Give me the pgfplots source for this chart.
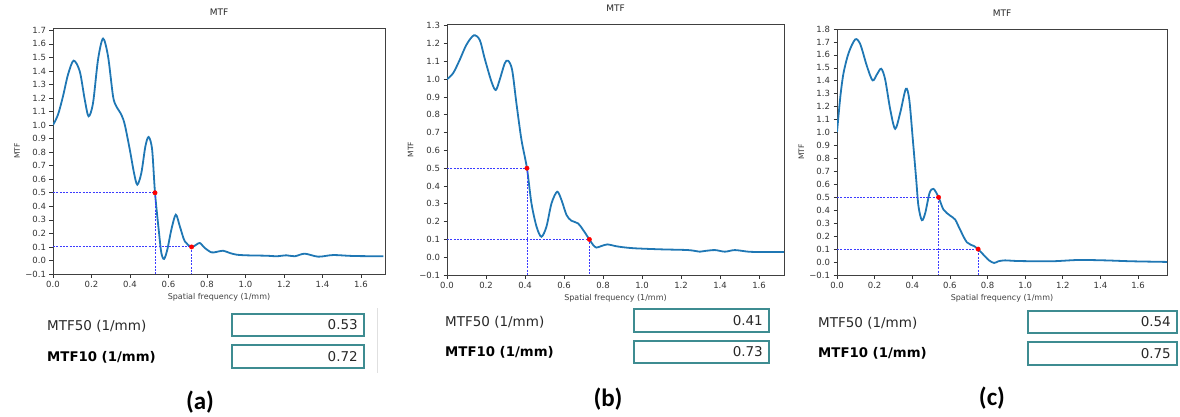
\documentclass[border=0pt]{standalone}
\usepackage{fontspec}
\setmainfont{DejaVu Sans}
\newfontfamily\carlito{Carlito}
\usepackage{pgfplots}
\pgfplotsset{compat=1.18}
\definecolor{mplblue}{RGB}{31,119,180}
\definecolor{boxteal}{RGB}{62,140,145}
\definecolor{lbl}{RGB}{40,40,40}
\definecolor{dashblue}{RGB}{60,60,255}

\pgfplotsset{mtf/.style={
  scale only axis, xmin=0, ymin=-0.1,
  axis line style={black!75,line width=0.6pt},
  tick align=outside, xtick pos=left, ytick pos=left,
  major tick length=3.5pt, tick style={black!80,line width=0.6pt},
  ticklabel style={font=\fontsize{8.5}{9}\selectfont, text=black!80},
  xtick={0,0.2,0.4,0.6,0.8,1.0,1.2,1.4,1.6},
  xticklabels={0.0,0.2,0.4,0.6,0.8,1.0,1.2,1.4,1.6},
  title=MTF,
  title style={font=\fontsize{9}{10}\selectfont, text=black!85, at={(axis description cs:0.5,1)}, anchor=center, yshift=10pt},
  xlabel={Spatial frequency (1/mm)},
  xlabel style={font=\fontsize{8}{9}\selectfont, text=black!75, at={(axis description cs:0.5,0)}, anchor=center, yshift=-23pt},
  ylabel=MTF,
  ylabel style={font=\fontsize{7.5}{8}\selectfont, text=black!80, at={(axis description cs:-0.108,0.5)}, anchor=center},
}}
\tikzset{
  mtfcurve/.style={mplblue, line width=1.8pt, smooth, no markers},
  mtfguide/.style={dashblue, line width=0.9pt, dash pattern=on 2pt off 1.3pt, no markers},
  mtfpt/.style={only marks, mark=*, mark size=2.2pt, red, mark options={fill=red, draw=red}},
}

\begin{document}
\begin{tikzpicture}
\path[use as bounding box] (0pt,0pt) rectangle (1180pt,416pt);

% ---------- (a)
\begin{axis}[mtf, at={(53pt,142pt)}, anchor=south west, width=332pt, height=246pt,
  xmax=1.725, ymax=1.717,
  ytick={-0.1,0,0.1,0.2,0.3,0.4,0.5,0.6,0.7,0.8,0.9,1.0,1.1,1.2,1.3,1.4,1.5,1.6,1.7},
  yticklabels={−0.1,0.0,0.1,0.2,0.3,0.4,0.5,0.6,0.7,0.8,0.9,1.0,1.1,1.2,1.3,1.4,1.5,1.6,1.7}]
\addplot[mtfcurve] coordinates {(0,1.0)(0.026,1.077)(0.052,1.213)(0.078,1.373)(0.107,1.476)(0.139,1.397)(0.165,1.188)(0.185,1.065)(0.208,1.163)(0.234,1.484)(0.26,1.639)(0.286,1.508)(0.312,1.213)(0.329,1.139)(0.355,1.077)(0.373,1.003)(0.399,0.819)(0.421,0.646)(0.438,0.56)(0.459,0.646)(0.48,0.843)(0.497,0.912)(0.515,0.819)(0.53,0.5)(0.551,0.203)(0.563,0.055)(0.577,0.011)(0.594,0.08)(0.615,0.228)(0.638,0.338)(0.659,0.252)(0.685,0.141)(0.72,0.1)(0.745,0.117)(0.763,0.129)(0.789,0.092)(0.823,0.06)(0.849,0.063)(0.884,0.072)(0.919,0.055)(0.953,0.043)(1.005,0.038)(1.109,0.035)(1.161,0.031)(1.213,0.038)(1.256,0.031)(1.308,0.05)(1.378,0.028)(1.456,0.04)(1.56,0.033)(1.716,0.031)};
\addplot[mtfguide] coordinates {(0,0.5)(0.53,0.5)(0.53,-0.1)};
\addplot[mtfguide] coordinates {(0,0.1)(0.72,0.1)(0.72,-0.1)};
\addplot[mtfpt] coordinates {(0.53,0.5)(0.72,0.1)};
\end{axis}

% ---------- (b)
\begin{axis}[mtf, at={(447pt,141pt)}, anchor=south west, width=337pt, height=251pt,
  xmax=1.728, ymax=1.31,
  ytick={-0.1,0,0.1,0.2,0.3,0.4,0.5,0.6,0.7,0.8,0.9,1.0,1.1,1.2,1.3},
  yticklabels={−0.1,0.0,0.1,0.2,0.3,0.4,0.5,0.6,0.7,0.8,0.9,1.0,1.1,1.2,1.3}]
\addplot[mtfcurve] coordinates {(0,1.0)(0.031,1.033)(0.065,1.108)(0.099,1.192)(0.137,1.246)(0.168,1.22)(0.193,1.117)(0.228,0.986)(0.25,0.939)(0.27,0.996)(0.296,1.089)(0.313,1.104)(0.334,1.052)(0.356,0.864)(0.382,0.658)(0.41,0.5)(0.433,0.303)(0.459,0.172)(0.484,0.115)(0.51,0.172)(0.536,0.303)(0.565,0.368)(0.587,0.321)(0.613,0.237)(0.638,0.205)(0.672,0.19)(0.698,0.153)(0.73,0.1)(0.749,0.069)(0.766,0.054)(0.792,0.063)(0.823,0.072)(0.861,0.063)(0.895,0.057)(0.963,0.05)(1.1,0.044)(1.237,0.04)(1.297,0.031)(1.322,0.035)(1.374,0.04)(1.425,0.031)(1.476,0.04)(1.545,0.031)(1.613,0.029)(1.728,0.029)};
\addplot[mtfguide] coordinates {(0,0.5)(0.41,0.5)(0.41,-0.1)};
\addplot[mtfguide] coordinates {(0,0.1)(0.73,0.1)(0.73,-0.1)};
\addplot[mtfpt] coordinates {(0.41,0.5)(0.73,0.1)};
\end{axis}

% ---------- (c)
\begin{axis}[mtf, at={(837pt,141pt)}, anchor=south west, width=330pt, height=246pt,
  xmax=1.754, ymax=1.8,
  ytick={-0.1,0,0.1,0.2,0.3,0.4,0.5,0.6,0.7,0.8,0.9,1.0,1.1,1.2,1.3,1.4,1.5,1.6,1.7,1.8},
  yticklabels={−0.1,0.0,0.1,0.2,0.3,0.4,0.5,0.6,0.7,0.8,0.9,1.0,1.1,1.2,1.3,1.4,1.5,1.6,1.7,1.8}]
\addplot[mtfcurve] coordinates {(0,1.003)(0.018,1.281)(0.035,1.462)(0.062,1.616)(0.097,1.72)(0.124,1.681)(0.159,1.513)(0.189,1.403)(0.212,1.449)(0.235,1.493)(0.256,1.41)(0.283,1.178)(0.309,1.029)(0.336,1.153)(0.366,1.338)(0.384,1.256)(0.403,0.946)(0.421,0.637)(0.433,0.431)(0.451,0.323)(0.469,0.379)(0.492,0.534)(0.513,0.565)(0.54,0.5)(0.566,0.405)(0.601,0.359)(0.628,0.328)(0.654,0.251)(0.69,0.153)(0.73,0.122)(0.75,0.1)(0.778,0.057)(0.808,0.013)(0.835,-0.007)(0.858,0.006)(0.893,0.013)(0.964,0.008)(1.14,0.006)(1.282,0.016)(1.424,0.013)(1.565,0.006)(1.754,0.001)};
\addplot[mtfguide] coordinates {(0,0.5)(0.54,0.5)(0.54,-0.1)};
\addplot[mtfguide] coordinates {(0,0.1)(0.75,0.1)(0.75,-0.1)};
\addplot[mtfpt] coordinates {(0.54,0.5)(0.75,0.1)};
\end{axis}

% ---------- readouts
\tikzset{rl/.style={anchor=west, font=\fontsize{13.5}{15}\selectfont, text=lbl, inner sep=0pt},
         rb/.style={anchor=west, font=\fontsize{13.3}{15}\selectfont\bfseries, text=black, inner sep=0pt},
         rv/.style={anchor=east, font=\fontsize{13.5}{15}\selectfont, text=lbl, inner sep=0pt},
         bx/.style={draw=boxteal, line width=1.8pt},
         pcap/.style={font=\carlito\bfseries\fontsize{25}{28}\selectfont, text=black}}
% (a)
\node[rl] at (47pt,90pt) {MTF50 (1/mm)};
\node[rb] at (47pt,59pt) {MTF10 (1/mm)};
\draw[bx] (232pt,102pt) rectangle (364pt,80pt);
\draw[bx] (232pt,71pt) rectangle (364pt,48pt);
\node[rv] at (358pt,91pt) {0.53};
\node[rv] at (358pt,59.5pt) {0.72};
\draw[black!12, line width=1pt] (377pt,108pt) -- (377pt,43pt);
\node[pcap] at (200pt,14pt) {(a)};
% (b)
\node[rl] at (445pt,94pt) {MTF50 (1/mm)};
\node[rb] at (445pt,64pt) {MTF10 (1/mm)};
\draw[bx] (634pt,107pt) rectangle (769pt,84pt);
\draw[bx] (634pt,75pt) rectangle (769pt,53pt);
\node[rv] at (763pt,95.5pt) {0.41};
\node[rv] at (763pt,64pt) {0.73};
\node[pcap] at (608pt,17pt) {(b)};
% (c)
\node[rl] at (818pt,93pt) {MTF50 (1/mm)};
\node[rb] at (818pt,63pt) {MTF10 (1/mm)};
\draw[bx] (1028pt,105pt) rectangle (1177pt,83pt);
\draw[bx] (1028pt,74pt) rectangle (1177pt,51pt);
\node[rv] at (1171pt,94pt) {0.54};
\node[rv] at (1171pt,62.5pt) {0.75};
\node[pcap] at (992pt,18pt) {(c)};
\end{tikzpicture}
\end{document}
